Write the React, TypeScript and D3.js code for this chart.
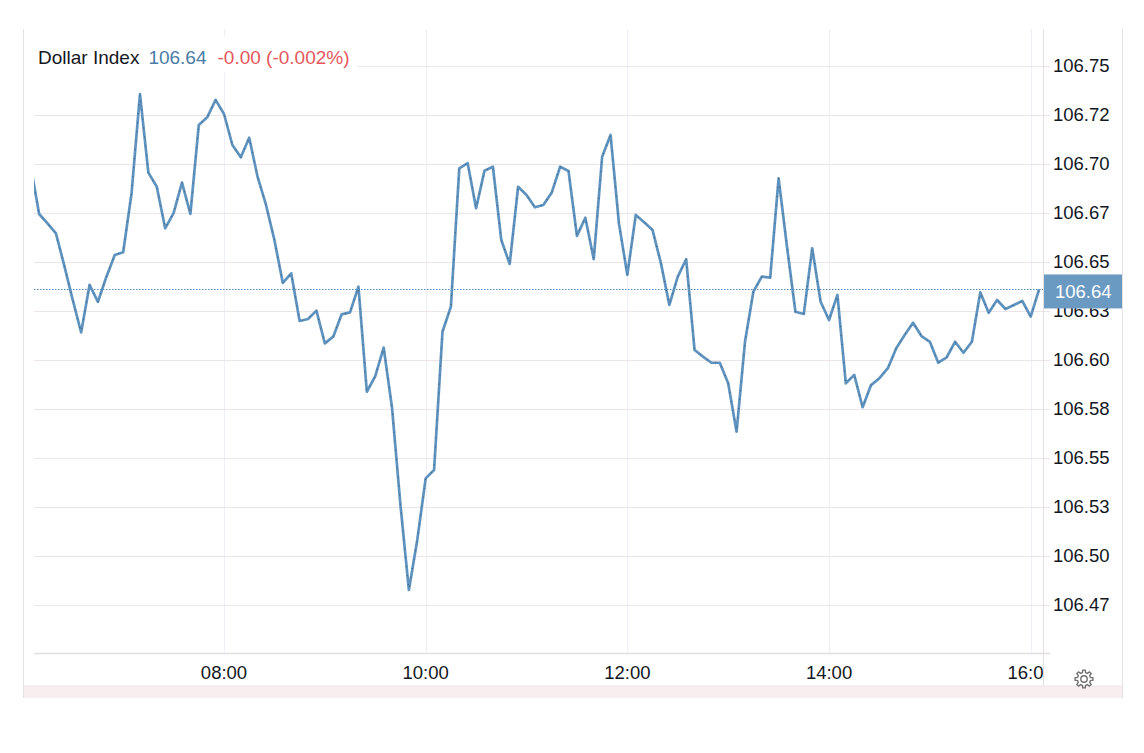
import { useEffect, useRef } from "react";
import * as d3 from "d3";

// 5-minute closes, first bar at 06:05
const startTime = "06:05";
const values = [
  106.699, 106.6745, 106.6697, 106.6646, 106.648, 106.6306, 106.6141, 106.6383,
  106.6297, 106.6424, 106.6536, 106.655, 106.6851, 106.7357, 106.6956, 106.6884,
  106.6672, 106.6749, 106.6905, 106.6745, 106.7199, 106.7238, 106.7327, 106.7255,
  106.7097, 106.7034, 106.7134, 106.6934, 106.6791, 106.6612, 106.6393, 106.6442,
  106.6199, 106.6209, 106.6252, 106.6085, 106.6119, 106.6233, 106.6243, 106.6374,
  106.5838, 106.5918, 106.6063, 106.5755, 106.526, 106.4827, 106.5082, 106.5396,
  106.5439, 106.6144, 106.6272, 106.6978, 106.7004, 106.6774, 106.6966, 106.6986,
  106.6612, 106.649, 106.6884, 106.6842, 106.6779, 106.6791, 106.6854, 106.6986,
  106.6964, 106.6633, 106.6726, 106.6514, 106.7037, 106.7148, 106.6697, 106.6434,
  106.674, 106.6703, 106.6663, 106.6493, 106.6281, 106.6425, 106.6514, 106.6051,
  106.6017, 106.5986, 106.5986, 106.5881, 106.5634, 106.6093, 106.6349, 106.6425,
  106.642, 106.6927, 106.6578, 106.6246, 106.6235, 106.657, 106.6297, 106.6204,
  106.6332, 106.5881, 106.5924, 106.5759, 106.5872, 106.5907, 106.5958, 106.606,
  106.6128, 106.619, 106.6122, 106.6093, 106.5986, 106.6014, 106.6093, 106.6037,
  106.6093, 106.6345, 106.6241, 106.6306, 106.626, 106.6281, 106.6301, 106.6221,
  106.636,
];

const yTickValues = [
  106.75, 106.725, 106.7, 106.675, 106.65, 106.625, 106.6, 106.575, 106.55,
  106.525, 106.5, 106.475,
];
const yTickLabels = [
  "106.75", "106.72", "106.70", "106.67", "106.65", "106.63", "106.60",
  "106.58", "106.55", "106.53", "106.50", "106.47",
];
const xTicks = ["08:00", "10:00", "12:00", "14:00", "16:00"];

const seriesName = "Dollar Index";
const lastLabel = "106.64";
const changeLabel = "-0.00 (-0.002%)";

export default function App() {
  const svgRef = useRef<SVGSVGElement>(null);

  useEffect(() => {
    if (!svgRef.current) return;
    const svg = d3.select(svgRef.current);
    svg.selectAll("*").remove();

    const left = 34;
    const right = 1043;
    const top = 29;
    const bottom = 654;
    const font = "Arial, 'Liberation Sans', sans-serif";
    const lineColor = "#5f93bf";

    const parse = d3.timeParse("%H:%M");
    const t0 = parse(startTime)!;
    const data = values.map((v, i) => ({
      time: d3.timeMinute.offset(t0, i * 5),
      value: v,
    }));

    const xScale = d3
      .scaleTime()
      .domain([parse("08:00")!, parse("16:00")!])
      .range([224, 1030.7]);
    const yScale = d3.scaleLinear().domain([106.475, 106.75]).range([605, 66]);

    const defs = svg.append("defs");
    defs
      .append("clipPath")
      .attr("id", "plot-clip")
      .append("rect")
      .attr("x", left)
      .attr("y", top)
      .attr("width", right - left)
      .attr("height", bottom - top);
    defs
      .append("clipPath")
      .attr("id", "time-clip")
      .append("rect")
      .attr("x", left)
      .attr("y", bottom)
      .attr("width", right - left)
      .attr("height", 40);

    // outer frame
    svg
      .append("line")
      .attr("x1", 23.5).attr("x2", 23.5)
      .attr("y1", top).attr("y2", 698)
      .attr("stroke", "#e3e0e2");
    svg
      .append("line")
      .attr("x1", 1122.5).attr("x2", 1122.5)
      .attr("y1", top).attr("y2", 698)
      .attr("stroke", "#e3e0e2");
    svg
      .append("rect")
      .attr("x", 24).attr("y", 686)
      .attr("width", 1098).attr("height", 12)
      .attr("fill", "#f8eef0");
    svg
      .append("line")
      .attr("x1", 24).attr("x2", 1122)
      .attr("y1", 686).attr("y2", 686)
      .attr("stroke", "#ece4e7");

    // vertical grid
    svg
      .append("g")
      .selectAll("line")
      .data(xTicks)
      .enter()
      .append("line")
      .attr("x1", (d) => Math.round(xScale(parse(d)!)) + 0.5)
      .attr("x2", (d) => Math.round(xScale(parse(d)!)) + 0.5)
      .attr("y1", top)
      .attr("y2", bottom)
      .attr("stroke", "#eeeef5");

    // horizontal grid with axis ticks
    svg
      .append("g")
      .selectAll("line")
      .data(yTickValues)
      .enter()
      .append("line")
      .attr("x1", left)
      .attr("x2", 1050)
      .attr("y1", (d) => Math.round(yScale(d)) + 0.5)
      .attr("y2", (d) => Math.round(yScale(d)) + 0.5)
      .attr("stroke", "#ebe5e8");

    svg
      .append("line")
      .attr("x1", left).attr("x2", 1050)
      .attr("y1", bottom - 0.5).attr("y2", bottom - 0.5)
      .attr("stroke", "#e3dfe1")
      .attr("stroke-width", 1.5);

    // price axis border
    svg
      .append("line")
      .attr("x1", right + 0.5).attr("x2", right + 0.5)
      .attr("y1", top).attr("y2", 686)
      .attr("stroke", "#e3e0e2");

    // last price dotted line
    const lastValue = values[values.length - 1];
    svg
      .append("line")
      .attr("x1", left).attr("x2", right)
      .attr("y1", Math.round(yScale(lastValue)) + 0.5)
      .attr("y2", Math.round(yScale(lastValue)) + 0.5)
      .attr("stroke", "#4f89bd")
      .attr("stroke-width", 1)
      .attr("stroke-dasharray", "1.5,1.5");

    // series line
    const line = d3
      .line<{ time: Date; value: number }>()
      .x((d) => xScale(d.time))
      .y((d) => yScale(d.value));

    const plot = svg.append("g").attr("clip-path", "url(#plot-clip)");
    plot
      .append("path")
      .datum(data)
      .attr("fill", "none")
      .attr("stroke", lineColor)
      .attr("stroke-width", 2.7)
      .attr("stroke-linejoin", "round")
      .attr("d", line);
    plot
      .append("path")
      .datum(data)
      .attr("fill", "none")
      .attr("stroke", "#1d2633")
      .attr("stroke-width", 1)
      .attr("stroke-opacity", 0.55)
      .attr("stroke-dasharray", "1,8")
      .attr("d", line);

    // y labels
    svg
      .append("g")
      .selectAll("text")
      .data(yTickValues)
      .enter()
      .append("text")
      .attr("x", 1053)
      .attr("y", (d) => yScale(d))
      .attr("dy", "0.35em")
      .attr("fill", "#131722")
      .style("font-family", font)
      .style("font-size", "18.5px")
      .text((d, i) => yTickLabels[i]);

    // last price box
    const ly = yScale(lastValue) + 2;
    svg
      .append("rect")
      .attr("x", right + 1)
      .attr("y", ly - 17)
      .attr("width", 1122 - right - 1)
      .attr("height", 34)
      .attr("fill", "#6a99c2");
    svg
      .append("text")
      .attr("x", 1055)
      .attr("y", ly)
      .attr("dy", "0.35em")
      .attr("fill", "#ffffff")
      .style("font-family", font)
      .style("font-size", "18.5px")
      .text(lastLabel);

    // time labels
    svg
      .append("g")
      .attr("clip-path", "url(#time-clip)")
      .selectAll("text")
      .data(xTicks)
      .enter()
      .append("text")
      .attr("x", (d) => xScale(parse(d)!))
      .attr("y", 673)
      .attr("dy", "0.35em")
      .attr("text-anchor", "middle")
      .attr("fill", "#131722")
      .style("font-family", font)
      .style("font-size", "18.5px")
      .text((d) => d);

    // legend
    svg
      .append("rect")
      .attr("x", left)
      .attr("y", 37)
      .attr("width", 324)
      .attr("height", 36)
      .attr("fill", "#ffffff");
    const legend = svg
      .append("text")
      .attr("x", 38)
      .attr("y", 64)
      .style("font-family", font)
      .style("font-size", "19px");
    legend.append("tspan").attr("fill", "#131722").text(seriesName);
    legend.append("tspan").attr("dx", 9).attr("fill", "#4a7ca6").text(lastLabel);
    legend.append("tspan").attr("dx", 11).attr("fill", "#e5575c").text(changeLabel);

    // settings gear
    const pts: [number, number][] = [];
    for (let k = 0; k < 8; k++) {
      const a = (k * Math.PI * 2) / 8;
      pts.push([a - 0.24, 6.6], [a - 0.14, 9], [a + 0.14, 9], [a + 0.24, 6.6]);
    }
    const gear = svg.append("g").attr("transform", "translate(1084,679)");
    gear
      .append("path")
      .attr("d", d3.lineRadial().curve(d3.curveLinearClosed)(pts))
      .attr("fill", "none")
      .attr("stroke", "#707070")
      .attr("stroke-width", 1.4);
    gear
      .append("circle")
      .attr("r", 3.2)
      .attr("fill", "none")
      .attr("stroke", "#707070")
      .attr("stroke-width", 1.4);
  }, []);

  return (
    <svg
      ref={svgRef}
      width={1144}
      height={753}
      style={{ position: "absolute", left: 0, top: 0, background: "#ffffff" }}
    />
  );
}
